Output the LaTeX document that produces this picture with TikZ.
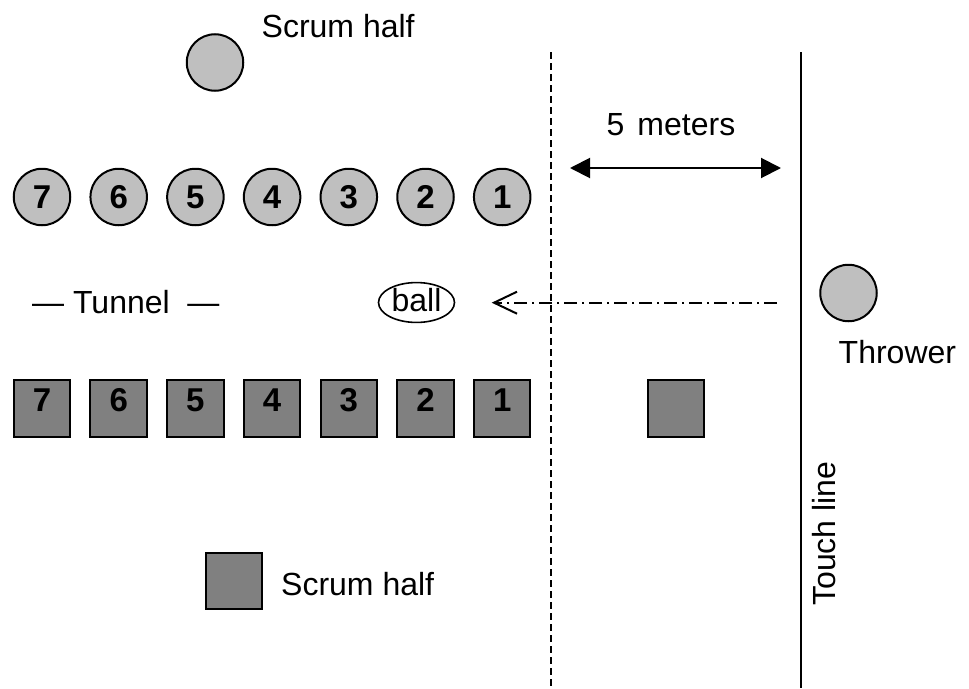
\documentclass[tikz,border=0pt]{standalone}
\usepackage{fontspec}
\setmainfont{Liberation Sans}
\usetikzlibrary{arrows.meta,shapes.geometric}

\definecolor{backgray}{gray}{0.75}
\definecolor{fwdgray}{gray}{0.5}

\tikzset{
	lbl/.style={inner sep=0pt, font=\fontsize{32}{38}\selectfont},
	num/.style={inner sep=0pt, font=\fontsize{33}{38}\selectfont\bfseries},
	back/.style={circle, draw, line width=2pt, fill=backgray, minimum size=56.5pt, num},
	fwd/.style={rectangle, draw, line width=2pt, fill=fwdgray, minimum size=56.5pt, num, text depth=17pt},
	fieldline/.style={line width=2pt},
}

\begin{document}
\begin{tikzpicture}[x=1pt, y=-1pt]
	\useasboundingbox (0,0) rectangle (969,688);

	% field lines
	\coordinate (d1) at (551,52);
	\coordinate (d2) at (551,688);
	\coordinate (t1) at (800.7,52);
	\coordinate (t2) at (800.7,688);
	\draw[fieldline, dash pattern=on 7pt off 4pt] (d1) -- (d2);
	\draw[fieldline] (t1) -- (t2);
	\node[lbl, rotate=90, anchor=base west] (touch) at (835,606) {Touch line};

	% 5 meters
	\coordinate (mL) at (570,168);
	\coordinate (mR) at (781,168);
	\draw[line width=2pt, {Triangle[length=20pt,width=20pt]}-{Triangle[length=20pt,width=20pt]}] (mL) -- (mR);
	\node[lbl, anchor=base west] (meters) at (606.5,135) {5\hspace{13pt}meters};

	% scrum halves
	\node[back] (sh1) at (215,62.5) {};
	\node[lbl, anchor=base west] (sh1txt) at (261.5,37.7) {Scrum half};
	\node[fwd] (sh2) at (234,581) {};
	\node[lbl, anchor=base west] (sh2txt) at (281,595) {Scrum half};

	% two rows of forwards
	\foreach \n in {1,...,7}{
		\node[back] (b\n) at ({42+76.7*(7-\n)},197) {\n};
		\node[fwd] (f\n) at ({42+76.7*(7-\n)},408.5) {\n};
	}
	\node[fwd] (f0) at (676,408.5) {};

	% thrower
	\node[back] (thrower) at (848.5,293) {};
	\node[lbl, anchor=base west] (thrtxt) at (838.5,363.3) {Thrower};

	% tunnel and ball
	\node[lbl, anchor=base west] (tunnel) at (32,313.6) {— Tunnel \ —};
	\node[lbl, ellipse, draw, line width=1.6pt, minimum width=76pt, minimum height=38pt, text depth=5pt] (ball) at (416.5,302.5) {ball};
	\coordinate (throw) at (777,302.7);
	\coordinate (land) at (491.7,302.7);
	\draw[line width=2pt, dash pattern=on 13pt off 5pt on 2pt off 5pt, -{Straight Barb[length=23pt,width=22pt]}] (throw) -- (land);

\end{tikzpicture}
\end{document}
